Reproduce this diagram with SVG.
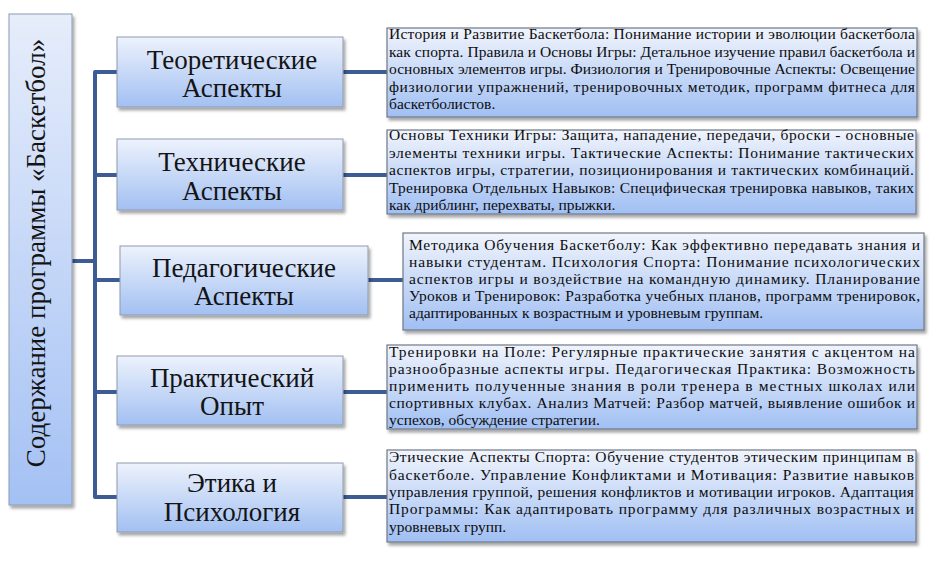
<svg xmlns="http://www.w3.org/2000/svg" width="945" height="571" viewBox="0 0 945 571">
<defs>
<linearGradient id="gMid" x1="0" y1="0" x2="0" y2="1">
<stop offset="0" stop-color="#edf2fc"/>
<stop offset="1" stop-color="#a2c0f2"/>
</linearGradient>
<linearGradient id="gDesc" x1="0" y1="0" x2="0" y2="1">
<stop offset="0" stop-color="#f0f4fc"/>
<stop offset="1" stop-color="#a0bff3"/>
</linearGradient>
<linearGradient id="gLeft" x1="0" y1="0" x2="0" y2="1">
<stop offset="0" stop-color="#e6edfb"/>
<stop offset="1" stop-color="#a4c1f4"/>
</linearGradient>
<filter id="sh" x="-10%" y="-10%" width="130%" height="130%">
<feDropShadow dx="2" dy="3" stdDeviation="1.8" flood-color="#000" flood-opacity="0.35"/>
</filter>
</defs>
<style>
.mid{fill:url(#gMid);stroke:#8e9bb0;stroke-width:1;filter:url(#sh)}
.desc{fill:url(#gDesc);stroke:#6e7889;stroke-width:1.2;filter:url(#sh)}
.left{fill:url(#gLeft);stroke:#8e9bb0;stroke-width:1;filter:url(#sh)}
.t1{font-family:"Liberation Serif","Times New Roman",serif;font-size:27px;fill:#141414;text-anchor:middle}
.t2{font-family:"Liberation Serif","Times New Roman",serif;font-size:15.5px;fill:#0d0d0d}
.tl{font-family:"Liberation Serif","Times New Roman",serif;font-size:27px;fill:#141414;text-anchor:middle}
.con{fill:none;stroke:#3d5c96;stroke-width:4;stroke-linejoin:round}
</style>
<rect width="945" height="571" fill="#fff"/>

<g id="connectors">
<path class="con" d="M72 261 H95"/>
<path class="con" d="M117 72 H95 V497 H117"/>
<path class="con" d="M95 175 H117"/>
<path class="con" d="M95 280 H120"/>
<path class="con" d="M95 392 H117"/>
<path class="con" d="M343 72 H387"/>
<path class="con" d="M343 175 H387"/>
<path class="con" d="M368 280 H403"/>
<path class="con" d="M343 392 H387"/>
<path class="con" d="M343 497 H387"/>
</g>

<g id="root">
<rect class="left" x="9" y="14" width="63" height="491"/>
<text class="tl" transform="translate(45,253) rotate(-90)">Содержание программы «Баскетбол»</text>
</g>

<g id="theory">
<rect class="mid" x="117" y="37" width="226" height="70"/>
<text class="t1" x="232" y="69">Теоретические</text>
<text class="t1" x="232" y="97">Аспекты</text>
</g>
<g id="tech">
<rect class="mid" x="117" y="139" width="226" height="71"/>
<text class="t1" x="232" y="171">Технические</text>
<text class="t1" x="232" y="200">Аспекты</text>
</g>
<g id="ped">
<rect class="mid" x="120" y="246" width="248" height="69"/>
<text class="t1" x="244" y="277">Педагогические</text>
<text class="t1" x="244" y="305">Аспекты</text>
</g>
<g id="pract">
<rect class="mid" x="117" y="356" width="226" height="69"/>
<text class="t1" x="232" y="387">Практический</text>
<text class="t1" x="232" y="415">Опыт</text>
</g>
<g id="ethics">
<rect class="mid" x="117" y="463" width="226" height="69"/>
<text class="t1" x="232" y="492">Этика и</text>
<text class="t1" x="232" y="521">Психология</text>
</g>

<g id="theory-desc">
<rect class="desc" x="387" y="28" width="530" height="89"/>
<text class="t2" x="389" y="39" textLength="526" lengthAdjust="spacing">История и Развитие Баскетбола: Понимание истории и эволюции баскетбола</text>
<text class="t2" x="389" y="56.5" textLength="526" lengthAdjust="spacing">как спорта. Правила и Основы Игры: Детальное изучение правил баскетбола и</text>
<text class="t2" x="389" y="74" textLength="526" lengthAdjust="spacing">основных элементов игры. Физиология и Тренировочные Аспекты: Освещение</text>
<text class="t2" x="389" y="91.5" textLength="526" lengthAdjust="spacing">физиологии упражнений, тренировочных методик, программ фитнеса для</text>
<text class="t2" x="389" y="109">баскетболистов.</text>
</g>
<g id="tech-desc">
<rect class="desc" x="387" y="130" width="529" height="84"/>
<text class="t2" x="389" y="140" textLength="525" lengthAdjust="spacing">Основы Техники Игры: Защита, нападение, передачи, броски - основные</text>
<text class="t2" x="389" y="157.5" textLength="525" lengthAdjust="spacing">элементы техники игры. Тактические Аспекты: Понимание тактических</text>
<text class="t2" x="389" y="175" textLength="525" lengthAdjust="spacing">аспектов игры, стратегии, позиционирования и тактических комбинаций.</text>
<text class="t2" x="389" y="192.5" textLength="525" lengthAdjust="spacing">Тренировка Отдельных Навыков: Специфическая тренировка навыков, таких</text>
<text class="t2" x="389" y="210">как дриблинг, перехваты, прыжки.</text>
</g>
<g id="ped-desc">
<rect class="desc" x="403" y="233" width="521" height="97"/>
<text class="t2" x="409" y="250" textLength="511" lengthAdjust="spacing">Методика Обучения Баскетболу: Как эффективно передавать знания и</text>
<text class="t2" x="409" y="267" textLength="511" lengthAdjust="spacing">навыки студентам. Психология Спорта: Понимание психологических</text>
<text class="t2" x="409" y="284" textLength="511" lengthAdjust="spacing">аспектов игры и воздействие на командную динамику. Планирование</text>
<text class="t2" x="409" y="301" textLength="511" lengthAdjust="spacing">Уроков и Тренировок: Разработка учебных планов, программ тренировок,</text>
<text class="t2" x="409" y="318">адаптированных к возрастным и уровневым группам.</text>
</g>
<g id="pract-desc">
<rect class="desc" x="387" y="345" width="530" height="84"/>
<text class="t2" x="389" y="357" textLength="526" lengthAdjust="spacing">Тренировки на Поле: Регулярные практические занятия с акцентом на</text>
<text class="t2" x="389" y="374" textLength="526" lengthAdjust="spacing">разнообразные аспекты игры. Педагогическая Практика: Возможность</text>
<text class="t2" x="389" y="391" textLength="526" lengthAdjust="spacing">применить полученные знания в роли тренера в местных школах или</text>
<text class="t2" x="389" y="408" textLength="526" lengthAdjust="spacing">спортивных клубах. Анализ Матчей: Разбор матчей, выявление ошибок и</text>
<text class="t2" x="389" y="425">успехов, обсуждение стратегии.</text>
</g>
<g id="ethics-desc">
<rect class="desc" x="387" y="450" width="529" height="92"/>
<text class="t2" x="389" y="462" textLength="525" lengthAdjust="spacing">Этические Аспекты Спорта: Обучение студентов этическим принципам в</text>
<text class="t2" x="389" y="479.5" textLength="525" lengthAdjust="spacing">баскетболе. Управление Конфликтами и Мотивация: Развитие навыков</text>
<text class="t2" x="389" y="497" textLength="525" lengthAdjust="spacing">управления группой, решения конфликтов и мотивации игроков. Адаптация</text>
<text class="t2" x="389" y="514" textLength="525" lengthAdjust="spacing">Программы: Как адаптировать программу для различных возрастных и</text>
<text class="t2" x="389" y="531.5">уровневых групп.</text>
</g>
</svg>
